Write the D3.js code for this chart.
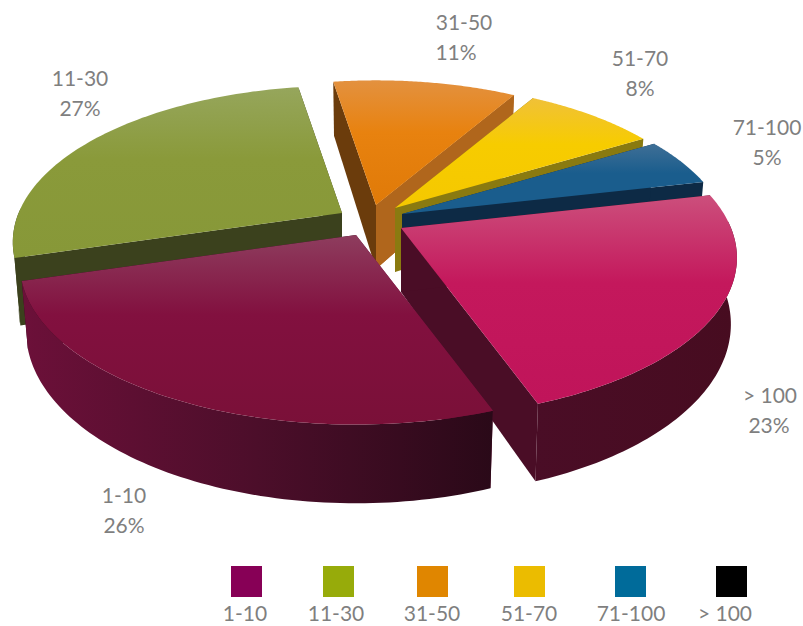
<!DOCTYPE html>
<html><head><meta charset="utf-8">
<script src="https://cdnjs.cloudflare.com/ajax/libs/d3/7.8.5/d3.min.js"></script>
<style>html,body{margin:0;padding:0;background:#fff}svg{display:block}text{font-family:Lato,"Open Sans",sans-serif;fill:#7f7f7f;font-size:21px}</style>
</head><body><svg id="c" width="803" height="626"></svg>
<script>
const categories = ["1-10","11-30","31-50","51-70","71-100","> 100"];
const shares = [26,27,11,8,5,23];
const legendColors = ["#870056","#97ab0a","#e08600","#ebbc00","#006b9a","#000000"];

const topLight = ["#8e3d5e","#96a65c","#e3913f","#f0c138","#3f6f96","#cc4f7c"];
const topBase  = ["#82103f","#8a9a3a","#e8820f","#f7cc00","#1a5d8d","#c4185c"];
const topEnd   = ["#7a1038","#879838","#e07a08","#f5c800","#1a5d8d","#c0145a"];
const wallA    = ["#6c1039","#3b411d","#6b3c0c","#8a7a10","#0d2a45","#4a0d26"];
const wallB    = ["#2a0918","#3b411d","#b0661c","#8a7a10","#0d2a45","#470c20"];

// per-slice apex placement (explosion), radius factor and 3D view parameters
const apexes = [[356,235],[342,213],[376,205],[395,208],[402,214],[401,228]];
const radii = [1,.98,.96,.96,.975,1];
const R=330, tilt=.467, persp=.187, depth=64, startDeg=160;

const legendX = [231,323,417,514,615,716];
const legendTextX = [245,336,432,529,631,725];
const labelPos = [[124,495],[80,78],[464,22],[640,58],[767,127],[770,395]];
const pctX = [124,80,456,640,767,769];

const svg=d3.select("#c"), defs=svg.append("defs");
const pie=d3.pie().sort(null).startAngle(startDeg*Math.PI/180).endAngle((startDeg+360)*Math.PI/180);
const arcs=pie(shares);
const line=d3.line();

function proj(a,i){
  const u=Math.sin(a), v=Math.cos(a), s=1/(1+persp*v), r=radii[i];
  const [ax,ay]=apexes[i];
  return {x:ax+R*r*u*s, y:ay-R*tilt*r*v*s, s, ax, ay};
}
const P=p=>[p.x,p.y];
const Bot=p=>[p.ax+(p.x-p.ax)*.982, p.y+depth*p.s];

// paint order back to front
const order=[2,3,4,1,5,0];
order.forEach(i=>{
  const d=arcs[i], g=svg.append("g").attr("class","slice");
  const a0=d.startAngle,a1=d.endAngle;
  const samples=d3.range(0,81).map(k=>a0+(a1-a0)*k/80);
  const rim=samples.map(a=>proj(a,i));
  const apex={x:apexes[i][0],y:apexes[i][1],s:1,ax:apexes[i][0],ay:apexes[i][1]};

  const gid="w"+i;
  const wg=defs.append("linearGradient").attr("id",gid).attr("x1",0).attr("x2",1).attr("y1",0).attr("y2",0);
  wg.append("stop").attr("offset",0).attr("stop-color",wallA[i]);
  if(i===0) wg.append("stop").attr("offset",.5).attr("stop-color","#4c0e2a");
  wg.append("stop").attr("offset",1).attr("stop-color",wallB[i]);

  // radial walls
  const wallEnd=[P(apex),P(rim[80]),Bot(rim[80]),Bot(apex)];
  const wallStart=[P(apex),P(rim[0]),Bot(rim[0]),Bot(apex)];
  g.append("path").attr("d",line(wallEnd)+"Z").attr("fill",i===5?wallA[i]:wallB[i]);
  g.append("path").attr("d",line(wallStart)+"Z").attr("fill",wallA[i]);
  if(i===2){ // right wall of this slice shows in front of its left wall
    g.append("path").attr("d",line(wallEnd)+"Z").attr("fill",wallB[i]);
  }
  // outer wall (front-facing part)
  const front=rim.filter((p,k)=>Math.cos(samples[k])<.05);
  if(front.length>1){
    const poly=front.map(P).concat(front.slice().reverse().map(Bot));
    g.append("path").attr("d",line(poly)+"Z").attr("fill",`url(#${gid})`);
  }
  // top face
  const tid="t"+i;
  const tg=defs.append("linearGradient").attr("id",tid).attr("x1",0).attr("x2",0).attr("y1",0).attr("y2",1);
  tg.append("stop").attr("offset",0).attr("stop-color",topLight[i]);
  tg.append("stop").attr("offset",.42).attr("stop-color",topBase[i]);
  tg.append("stop").attr("offset",1).attr("stop-color",topEnd[i]);
  g.append("path").attr("d",line([P(apex)].concat(rim.map(P)))+"Z").attr("fill",`url(#${tid})`);
});

// data labels
categories.forEach((c,i)=>{
  const t=svg.append("text").attr("text-anchor","middle").attr("y",labelPos[i][1]+8);
  t.append("tspan").attr("x",labelPos[i][0]).text(c);
  t.append("tspan").attr("x",pctX[i]).attr("dy",30).text(shares[i]+"%");
});
// legend
svg.selectAll("rect.l").data(categories).join("rect").attr("class","l")
  .attr("x",(d,i)=>legendX[i]).attr("y",566).attr("width",31).attr("height",31).attr("fill",(d,i)=>legendColors[i]);
svg.selectAll("text.l").data(categories).join("text").attr("class","l").attr("text-anchor","middle")
  .attr("x",(d,i)=>legendTextX[i]).attr("y",621).text(d=>d);
</script></body></html>
